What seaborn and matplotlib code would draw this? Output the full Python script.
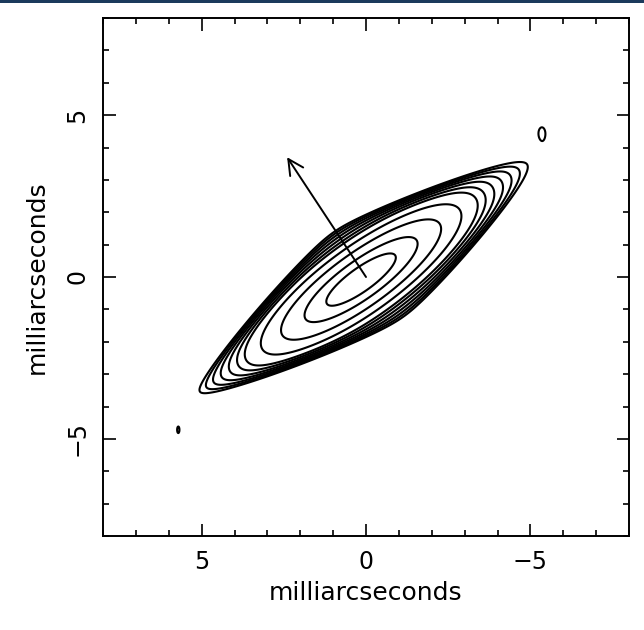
import numpy as np
import matplotlib
matplotlib.use("Agg")
import matplotlib.pyplot as plt
import seaborn as sns
from matplotlib.ticker import MultipleLocator
from matplotlib.patches import Rectangle

# ---------------- values ----------------
axis_label = "milliarcseconds"
x_limits = [8, -8]          # RA axis runs east to west (inverted)
y_limits = [-8, 8]
major_step = 5
minor_step = 1

# envelope of the emission (mas): lower-left tip, lower-right break, upper-left break
corner_ll = [5.85, -4.10]
corner_lr = [-1.30, -1.40]
corner_ul = [1.12, 1.56]
edge_width = [0.06]

# elliptical core: centre (mas), major-axis angle (deg), widths (mas)
core_center = [0.15, -0.08]
core_angle = [144.0]
core_sigma = [3.0, 0.85]

# contour levels (percent of peak)
contour_levels = [11.0, 14.0, 17.5, 21.5, 26.0, 30.9, 35.8, 46.8, 61.7, 78.6, 91.3]

# compact components (mas, percent of peak)
comp_x = [-5.35, 5.71]
comp_y = [4.44, -4.72]
comp_sx = [0.20, 0.07]
comp_sy = [0.36, 0.20]
comp_peak = [12.5, 12.5]

# position-angle arrow (mas)
arrow_tail = [0.0, 0.0]
arrow_head = [2.4, 3.7]

# ---------------- build the map ----------------
xs = np.linspace(-8, 8, 1201)
ys = np.linspace(-8, 8, 1201)
X, Y = np.meshgrid(xs, ys)

ll = np.array(corner_ll); lr = np.array(corner_lr); ul = np.array(corner_ul)
e1 = (lr - ll) / 2.0
e2 = (ul - ll) / 2.0
c = (lr + ul) / 2.0
Minv = np.linalg.inv(np.array([[e1[0], e2[0]], [e1[1], e2[1]]]))
S = Minv[0, 0] * (X - c[0]) + Minv[0, 1] * (Y - c[1])
T = Minv[1, 0] * (X - c[0]) + Minv[1, 1] * (Y - c[1])
w = edge_width[0]
W = 1.0 / (1.0 + np.exp((np.abs(S) - 1.0) / w)) * 1.0 / (1.0 + np.exp((np.abs(T) - 1.0) / w))

th = np.deg2rad(core_angle[0])
U = (X - core_center[0]) * np.cos(th) + (Y - core_center[1]) * np.sin(th)
V = -(X - core_center[0]) * np.sin(th) + (Y - core_center[1]) * np.cos(th)
F = 100.0 * np.exp(-U**2 / (2 * core_sigma[0]**2) - V**2 / (2 * core_sigma[1]**2)) * W
for px, py, sx, sy, pk in zip(comp_x, comp_y, comp_sx, comp_sy, comp_peak):
    F = F + pk * np.exp(-(X - px)**2 / (2 * sx**2) - (Y - py)**2 / (2 * sy**2))

# ---------------- draw ----------------
sns.set_style("ticks")
plt.rcParams['font.family'] = ['DejaVu Sans']
plt.rcParams['axes.unicode_minus'] = True

fig = plt.figure(figsize=(6.44, 6.30), dpi=100)
ax = fig.add_axes([103 / 644, 1 - 536 / 630, 526 / 644, 518 / 630])

ax.contour(X, Y, F, levels=sorted(contour_levels), colors='black', linewidths=1.5)

ax.annotate("", xy=arrow_head, xytext=arrow_tail,
            arrowprops=dict(arrowstyle="->,head_length=0.55,head_width=0.28",
                            lw=1.4, color='black', shrinkA=0, shrinkB=0,
                            mutation_scale=20))

ax.set_xlim(*x_limits)
ax.set_ylim(*y_limits)
for axis in (ax.xaxis, ax.yaxis):
    axis.set_major_locator(MultipleLocator(major_step))
    axis.set_minor_locator(MultipleLocator(minor_step))
ax.tick_params(which='both', direction='in', top=True, right=True,
               bottom=True, left=True, color='black', width=1.2)
ax.tick_params(which='major', length=9, labelsize=17, pad=10, labelcolor='black')
ax.tick_params(which='minor', length=4.5)
ax.tick_params(axis='y', which='major', labelrotation=90)
for lab in ax.get_yticklabels():
    lab.set_verticalalignment('center')

for sp in ax.spines.values():
    sp.set_linewidth(1.4)
    sp.set_color('black')

ax.set_xlabel(axis_label, fontsize=18, labelpad=5, color='black')
ax.set_ylabel(axis_label, fontsize=18, labelpad=12, color='black')

fig.add_artist(Rectangle((0, 1 - 3 / 630), 1, 3 / 630, transform=fig.transFigure,
                         facecolor='#1b3a5c', edgecolor='none'))

fig.savefig("out.png", dpi=100, facecolor='white')
